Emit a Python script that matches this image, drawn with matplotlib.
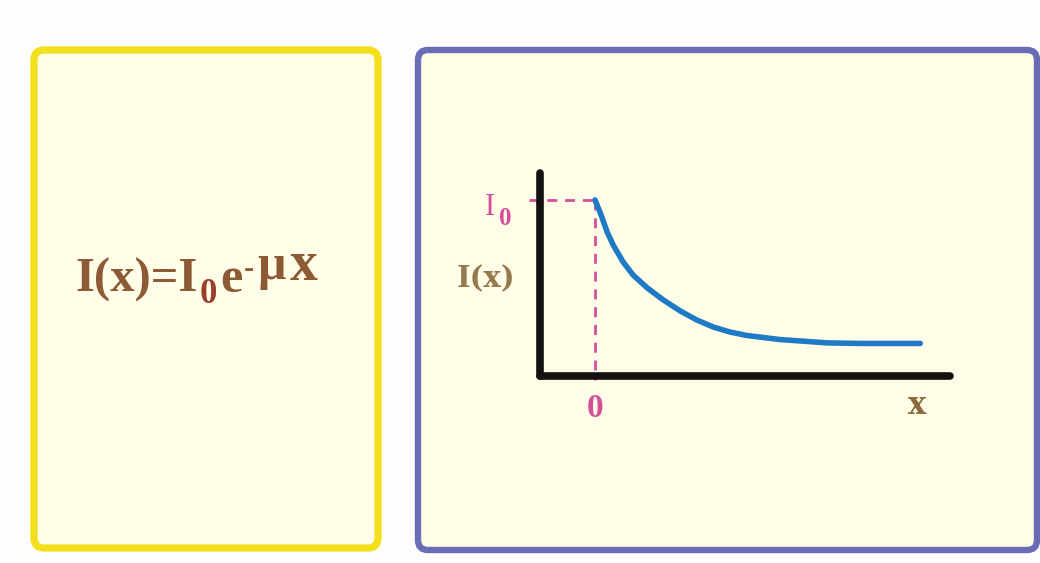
import matplotlib
matplotlib.use("Agg")
from matplotlib import pyplot as plt
from matplotlib.patches import FancyBboxPatch


# decay curve (x in arbitrary units, I relative to I0)
x_vals = [0.0, 0.11, 0.22, 0.33, 0.51, 0.69, 0.95, 1.24, 1.55, 1.85,
          2.15, 2.45, 2.76, 3.05, 3.36, 3.73, 4.22, 4.82, 5.91]
i_vals = [1.0, 0.915, 0.818, 0.744, 0.648, 0.574, 0.500, 0.432, 0.369, 0.318,
          0.278, 0.250, 0.230, 0.219, 0.207, 0.199, 0.188, 0.185, 0.185]

formula_parts = ["I(x)=I", "0", "e", "-", "\u03bc", "x"]
axis_labels = {"i0": "I", "i0_sub": "0", "ix": "I(x)", "zero": "0", "x": "x"}

BROWN = "#8c5a34"
PINK = "#d4519a"
OLIVE = "#8a6c3c"
CREAM = "#fffde7"

W, H = 1040, 563
fig = plt.figure(figsize=(W / 100, H / 100), dpi=100)
fig.patch.set_facecolor("#fdfdfb")

# background layer in pixel coords for the two framed panels
bg = fig.add_axes([0, 0, 1, 1])
bg.set_xlim(0, W)
bg.set_ylim(H, 0)
bg.axis("off")

yellow = FancyBboxPatch((34, 50), 344, 498, boxstyle="round,pad=0,rounding_size=10",
                        facecolor=CREAM, edgecolor="#f3df1c", linewidth=5.2)
blue = FancyBboxPatch((418, 50), 619, 500, boxstyle="round,pad=0,rounding_size=10",
                      facecolor=CREAM, edgecolor="#6a6cb6", linewidth=4.6)
bg.add_patch(yellow)
bg.add_patch(blue)

# formula, piece by piece: (size, colour, gap in pt, raise in pt)
base_y = 292
piece_style = [(35, BROWN, 0, 0), (25, "#9a3f2a", 2, -8), (36, BROWN, 2, 0),
               (22, BROWN, 1, 11), (36, BROWN, 2.5, 9), (40, BROWN, 3, 9)]
t = None
for txt, (sz, col, gap, rise) in zip(formula_parts, piece_style):
    if t is None:
        t = bg.text(75, base_y, txt, fontsize=sz, fontweight="bold",
                    family="Liberation Serif", color=col, va="baseline", ha="left")
    else:
        t = bg.annotate(txt, xy=(1, base_y), xycoords=(t, "data"), xytext=(gap, rise),
                        textcoords="offset points", fontsize=sz, fontweight="bold",
                        family="Liberation Serif", color=col, va="baseline", ha="left")

# the plot inside the blue panel
ax = fig.add_axes([540 / W, 1 - 376 / H, 410 / W, 203 / H])
ax.set_xlim(-1.0, 6.45)
ax.set_ylim(0, 1.153)
ax.patch.set_alpha(0)
ax.set_xticks([])
ax.set_yticks([])
for s in ["top", "right"]:
    ax.spines[s].set_visible(False)
for s in ["left", "bottom"]:
    ax.spines[s].set_linewidth(5.5)
    ax.spines[s].set_color("#141210")
    ax.spines[s].set_capstyle("round")

ax.plot(x_vals, i_vals, color="#1f7ac6", linewidth=4.0, solid_capstyle="round", zorder=3)

ax.plot([-1.2, x_vals[0]], [i_vals[0], i_vals[0]], color=PINK, linewidth=2.0,
        linestyle=(0, (3.6, 2.8)), clip_on=False, zorder=2)
ax.plot([x_vals[0], x_vals[0]], [i_vals[0], -0.02], color=PINK, linewidth=2.0,
        linestyle=(0, (3.6, 2.8)), clip_on=False, zorder=2)

ax.text(-1.90, 0.955, axis_labels["i0"], fontsize=22, family="Liberation Serif",
        color=PINK, ha="center", va="center", clip_on=False)
ax.text(-1.63, 0.895, axis_labels["i0_sub"], fontsize=18, fontweight="bold",
        family="Liberation Serif", color=PINK, ha="center", va="center", clip_on=False)
ax.text(-1.99, 0.55, axis_labels["ix"], fontsize=21, fontweight="bold",
        family="DejaVu Serif", color=OLIVE, ha="center", va="center", alpha=0.9)
ax.text(x_vals[0], -0.182, axis_labels["zero"], fontsize=24, fontweight="bold",
        family="Liberation Serif", color=PINK, ha="center", va="center")
ax.text(5.86, -0.17, axis_labels["x"], fontsize=22, fontweight="bold",
        family="DejaVu Serif", color=OLIVE, ha="center", va="center")

fig.savefig("out.png", dpi=100, facecolor=fig.get_facecolor())
